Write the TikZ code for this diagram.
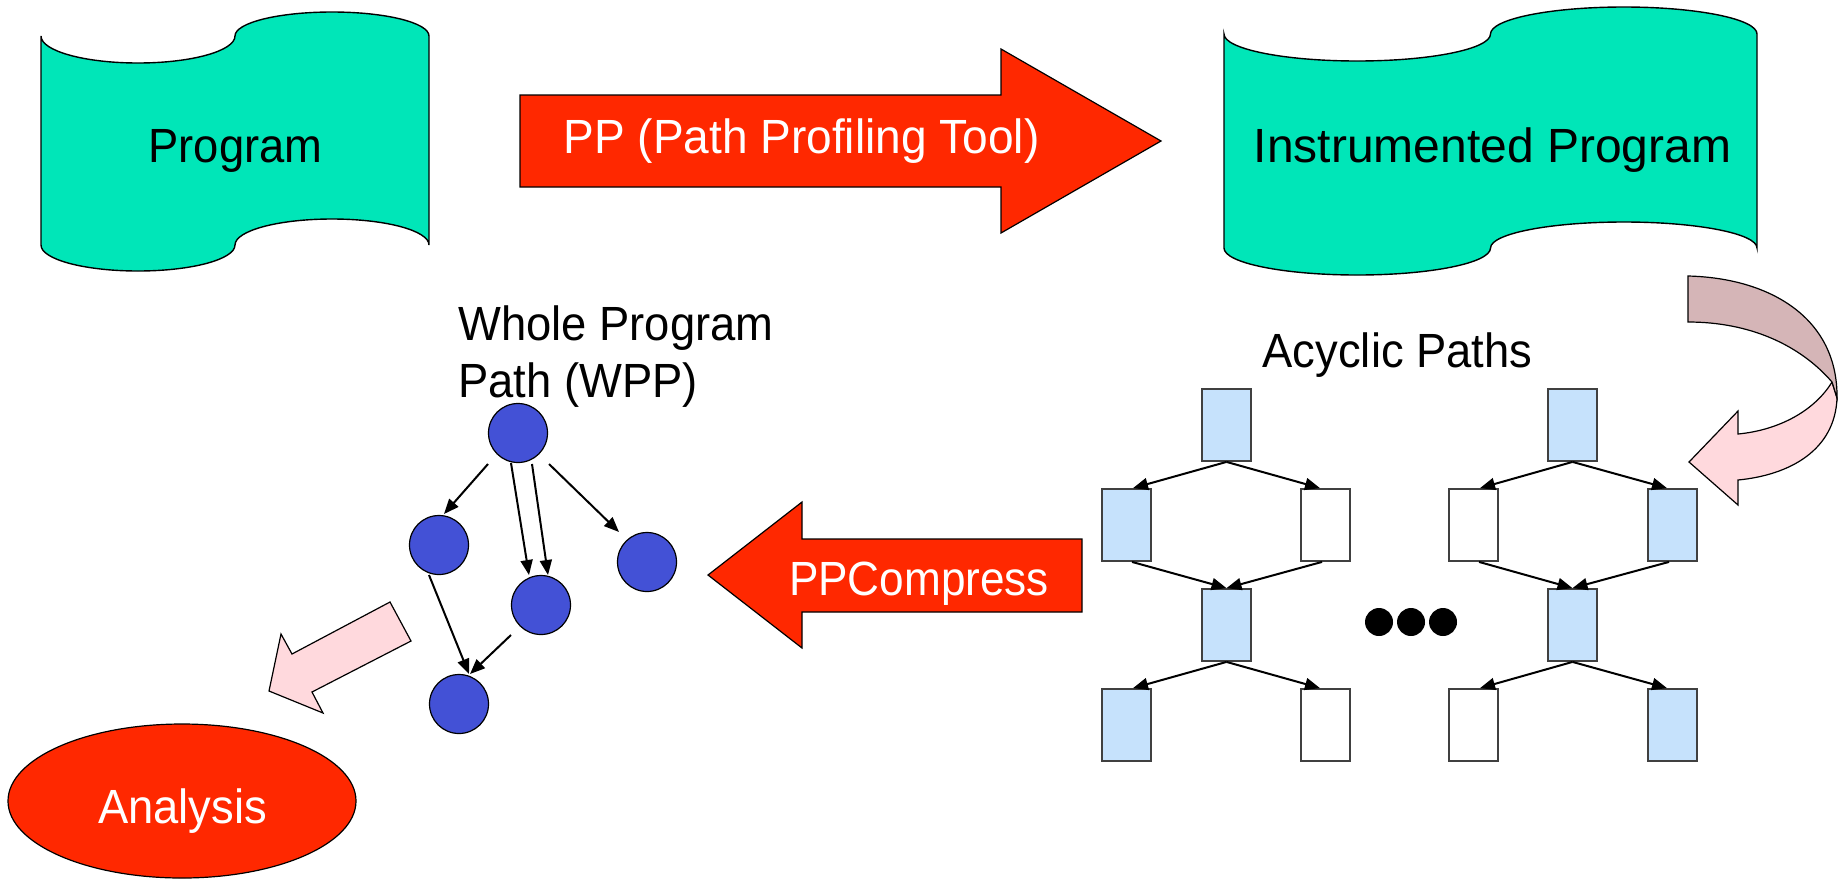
\documentclass[tikz,border=0pt]{standalone}
\usepackage{fontspec}
\usepackage{graphicx}
\setmainfont{Liberation Sans}[FakeStretch=0.945]
\usetikzlibrary{arrows.meta,calc}

\definecolor{tapeteal}{HTML}{00E6B8}
\definecolor{hotred}{HTML}{FF2800}
\definecolor{softpink}{HTML}{FFD9DD}
\definecolor{mauve}{HTML}{D5B5B7}
\definecolor{paleblue}{HTML}{C6E2FC}
\definecolor{dotblue}{HTML}{4351D6}
\definecolor{boxgrey}{HTML}{404040}

\begin{document}
\begin{tikzpicture}[x=0.5pt,y=-0.5pt,
  banner/.style={fill=tapeteal,draw=black,line width=0.7pt},
  bigarrow/.style={fill=hotred,draw=black,line width=0.6pt},
  pinkarrow/.style={fill=softpink,draw=black,line width=0.6pt},
  lbl/.style={font=\fontsize{24}{28}\selectfont,inner sep=0pt,anchor=base},
  blk/.style={draw=boxgrey,line width=0.9pt,minimum width=24.5pt,minimum height=36pt,inner sep=0pt},
  blkon/.style={blk,fill=paleblue},
  blkoff/.style={blk,fill=white},
  wnode/.style={circle,draw=black,line width=0.6pt,fill=dotblue,minimum size=29.5pt,inner sep=0pt},
  edge/.style={line width=1pt,-{Triangle[length=7.5pt,width=6pt]}}]
\useasboundingbox (0,0) rectangle (1839,879);

% source program (punched tape)
\path[banner] (41,36)
  arc[start angle=180,end angle=0,x radius=97,y radius=27]
  arc[start angle=180,end angle=360,x radius=97,y radius=24]
  -- (429,245)
  arc[start angle=360,end angle=180,x radius=97,y radius=26]
  arc[start angle=0,end angle=180,x radius=97,y radius=26]
  -- cycle;
\node[lbl] (tprog) at (235.5,162) {Program};

% instrumented program (punched tape)
\path[banner] (1224,34)
  arc[start angle=180,end angle=0,x radius=133.25,y radius=27]
  arc[start angle=180,end angle=360,x radius=133.25,y radius=27]
  -- (1757,248)
  arc[start angle=360,end angle=180,x radius=133.25,y radius=26]
  arc[start angle=0,end angle=180,x radius=133.25,y radius=27]
  -- cycle;
\node[lbl] (tinst) at (1492.5,162) {\scalebox{1.058}[1]{Instrumented Program}};

% PP block arrow
\path[bigarrow] (520,95) -- (1001,95) -- (1001,49) -- (1161,141) -- (1001,233)
  -- (1001,187) -- (520,187) -- cycle;
\node[lbl,text=white] (tpp) at (801.5,153) {\scalebox{1.015}[1]{PP (Path Profiling Tool)}};

% curved arrow down to the acyclic paths
\path[pinkarrow] (1832,382) .. controls (1815,410) and (1780,430) .. (1738,434)
  -- (1738,411) -- (1689,462) -- (1738,505) -- (1738,480)
  .. controls (1790,475) and (1835,450) .. (1837,398) -- cycle;
\path[fill=mauve,draw=black,line width=0.6pt] (1688,276)
  .. controls (1770,278) and (1838,318) .. (1837,398) -- (1832,382)
  .. controls (1800,345) and (1750,322) .. (1688,322) -- cycle;

% acyclic paths
\node[lbl] (tacyc) at (1397.5,367) {Acyclic Paths};

\node[blkon]  (a1) at (1226.5,425) {};
\node[blkon]  (a2) at (1126.5,525) {};
\node[blkoff] (a3) at (1325.5,525) {};
\node[blkon]  (a4) at (1226.5,625) {};
\node[blkon]  (a5) at (1126.5,725) {};
\node[blkoff] (a6) at (1325.5,725) {};
\draw[edge] (a1.south) -- ($(a2.north)+(6.5,0)$);
\draw[edge] (a1.south) -- ($(a3.north)+(-5.5,0)$);
\draw[edge] ($(a2.south)+(5.5,0)$) -- (a4.north);
\draw[edge] ($(a3.south)+(-3.5,0)$) -- (a4.north);
\draw[edge] (a4.south) -- ($(a5.north)+(6.5,0)$);
\draw[edge] (a4.south) -- ($(a6.north)+(-5.5,0)$);

\node[blkon]  (b1) at (1572.5,425) {};
\node[blkoff] (b2) at (1473.5,525) {};
\node[blkon]  (b3) at (1672.5,525) {};
\node[blkon]  (b4) at (1572.5,625) {};
\node[blkoff] (b5) at (1473.5,725) {};
\node[blkon]  (b6) at (1672.5,725) {};
\draw[edge] (b1.south) -- ($(b2.north)+(6.5,0)$);
\draw[edge] (b1.south) -- ($(b3.north)+(-5.5,0)$);
\draw[edge] ($(b2.south)+(5.5,0)$) -- (b4.north);
\draw[edge] ($(b3.south)+(-3.5,0)$) -- (b4.north);
\draw[edge] (b4.south) -- ($(b5.north)+(6.5,0)$);
\draw[edge] (b4.south) -- ($(b6.north)+(-5.5,0)$);

% ellipsis between the two paths
\fill (1379,622) circle[radius=14];
\fill (1411,622) circle[radius=14];
\fill (1443,622) circle[radius=14];

% PPCompress block arrow
\path[bigarrow] (1082,539) -- (802,539) -- (802,502) -- (708,575) -- (802,648)
  -- (802,612) -- (1082,612) -- cycle;
\node[lbl,text=white] (tppc) at (919,595) {\scalebox{0.973}[1]{PPCompress}};

% whole program path
\node[lbl,anchor=base west] (twpp1) at (458,340) {Whole Program};
\node[lbl,anchor=base west] (twpp2) at (458,397) {Path (WPP)};

\node[wnode] (w1) at (518,433) {};
\node[wnode] (w2) at (439,545) {};
\node[wnode] (w3) at (541,605) {};
\node[wnode] (w4) at (647,562) {};
\node[wnode] (w5) at (459,704) {};
\draw[edge] ($(w1)+(-30,31)$) -- ($(w2)+(5,-31)$);
\draw[edge] ($(w1)+(-7,30)$) -- ($(w3)+(-12,-30)$);
\draw[edge] ($(w1)+(14,31)$) -- ($(w3)+(7,-30)$);
\draw[edge] ($(w1)+(31,31)$) -- ($(w4)+(-28,-30)$);
\draw[edge] ($(w2)+(-10,30)$) -- ($(w5)+(10,-30)$);
\draw[edge] ($(w3)+(-30,30)$) -- ($(w5)+(11,-30)$);

% arrow down to the analysis
\path[pinkarrow] (390,602) -- (411,641) -- (312,692) -- (323,713) -- (269,691)
  -- (281,634) -- (292,654) -- cycle;

% analysis
\path[fill=hotred,draw=black,line width=0.6pt] (182,801) ellipse[x radius=174,y radius=77];
\node[lbl,text=white] (tana) at (182.5,823) {Analysis};
\end{tikzpicture}
\end{document}
